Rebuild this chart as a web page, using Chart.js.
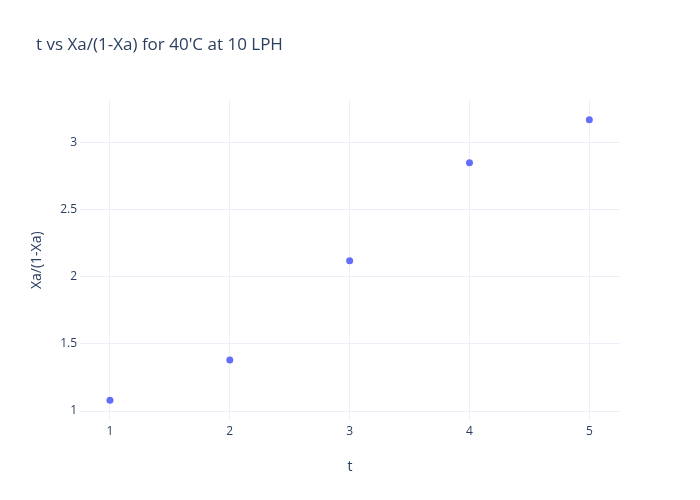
<!DOCTYPE html>
<html>
<head>
<meta charset="utf-8">
<script src="https://cdn.jsdelivr.net/npm/chart.js@4"></script>
<style>
  body { margin: 0; background: #fff; }
</style>
</head>
<body>
<canvas id="grafico" width="700" height="500"></canvas>
<script>
// datos
const tValues = [1, 2, 3, 4, 5];
const ratioValues = [1.08, 1.38, 2.12, 2.85, 3.17];
const xTicks = [1, 2, 3, 4, 5];
const yTicks = [1, 1.5, 2, 2.5, 3];

const puntos = tValues.map((t, i) => ({ x: t, y: ratioValues[i] }));
const textoColor = '#2a3f5f';
const rejilla = '#ebf0f8';

const ctx = document.getElementById('grafico');
new Chart(ctx, {
  type: 'scatter',
  data: {
    datasets: [{
      label: 'Xa/(1-Xa)',
      data: puntos,
      backgroundColor: '#636efa',
      borderWidth: 0,
      pointRadius: 3.5,
      pointHoverRadius: 4
    }]
  },
  options: {
    responsive: false,
    animation: false,
    layout: { padding: { left: 36, right: 80, top: 0, bottom: 0 } },
    plugins: {
      legend: { display: false },
      tooltip: { enabled: false },
      title: {
        display: true,
        text: "t vs Xa/(1-Xa) for 40'C at 10 LPH",
        align: 'start',
        color: textoColor,
        font: { family: 'Open Sans', size: 17, weight: 'normal' },
        padding: { top: 35, bottom: 45 }
      }
    },
    scales: {
      x: {
        type: 'linear',
        min: 0.75,
        max: 5.256,
        afterBuildTicks: s => { s.ticks = xTicks.map(v => ({ value: v })); },
        afterFit: s => { s.height = 80; },
        grid: { color: rejilla, drawTicks: false },
        border: { display: false },
        ticks: {
          color: textoColor,
          padding: 4,
          font: { family: 'Open Sans', size: 12 },
          callback: v => String(v)
        },
        title: {
          display: true,
          text: 't',
          color: textoColor,
          font: { family: 'Open Sans', size: 14 },
          padding: { top: 0, bottom: 25 }
        }
      },
      y: {
        type: 'linear',
        min: 0.933,
        max: 3.314,
        afterBuildTicks: s => { s.ticks = yTicks.map(v => ({ value: v })); },
        afterFit: s => { s.width = 44; },
        grid: { color: rejilla, drawTicks: false },
        border: { display: false },
        ticks: {
          color: textoColor,
          padding: 3,
          font: { family: 'Open Sans', size: 12 },
          callback: v => String(v)
        },
        title: {
          display: true,
          text: 'Xa/(1-Xa)',
          color: textoColor,
          font: { family: 'Open Sans', size: 14 },
          padding: { top: -7, bottom: 0 }
        }
      }
    }
  }
});
</script>
</body>
</html>
